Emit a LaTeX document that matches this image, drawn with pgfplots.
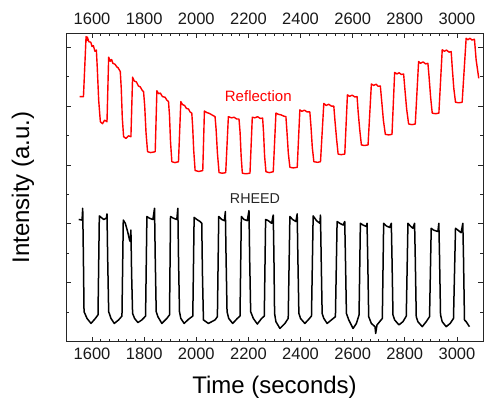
\documentclass[border=0pt]{standalone}
\usepackage{fontspec}
\setmainfont{Liberation Sans}
\usepackage{pgfplots}
\pgfplotsset{compat=1.18}
\begin{document}
\begin{tikzpicture}
\useasboundingbox (0,0) rectangle (484pt,401pt);
\pgfplotsset{
 base/.style={
  at={(66pt,59.3pt)}, anchor=south west,
  width=417pt, height=308.4pt, scale only axis,
  xmin=1500, xmax=3100, ymin=0, ymax=10.47,
  xtick={1600,1800,...,3000}, minor x tick num=5,
  ytick={0,2,...,10}, minor y tick num=1, yticklabels={},
  tick align=inside,
  major tick length=5pt, minor tick length=3pt,
  axis line style={line width=1pt, black!85},
  every tick/.style={black!85, line width=0.8pt},
  /pgf/number format/assume math mode=true,
  /pgf/number format/1000 sep={},
  scaled x ticks=false,
  tick label style={font=\fontsize{16.5}{16.5}\selectfont, black!90},
 }
}
\begin{axis}[base, xticklabel style={yshift=-2.3pt},
 xlabel={Time (seconds)}, ylabel={Intensity (a.u.)},
 label style={font=\fontsize{24}{24}\selectfont},
 xlabel style={at={(axis description cs:0.5,-0.1673)}, anchor=base},
 ylabel style={at={(axis description cs:-0.0887,0.5)}, anchor=base},
 clip=true]
% Reflection
\addplot[red, line width=1.4pt, line join=round] coordinates {
(1552.7,8.32)(1567.0,8.32)(1577.0,10.36)(1580,10.22)(1582,10.34)(1588,10.18)(1595,10.17)(1600,10.02)(1605,10.05)(1611,9.86)(1616.5,9.90)(1620,9.3)(1625.4,8.2)(1631.8,7.47)(1640,7.40)(1648,7.52)(1657.3,7.47)
(1663.7,9.66)(1670,9.52)(1675,9.58)(1680,9.45)(1688,9.42)(1695,9.33)(1700,9.30)(1708.3,9.17)(1712,8.6)(1716,7.6)(1721,6.96)(1730,6.90)(1740,6.99)(1749.1,6.96)
(1755.5,8.98)(1762,8.85)(1770,8.82)(1778,8.68)(1785,8.65)(1792,8.54)(1797.6,8.49)(1802,8.0)(1807,7.1)(1812.9,6.45)(1825,6.42)(1842.3,6.45)
(1848.7,8.52)(1855,8.42)(1862,8.44)(1870,8.32)(1880,8.30)(1887,8.20)(1893.3,8.15)(1897,7.7)(1901,6.8)(1906.1,6.11)(1918,6.08)(1931.6,6.11)
(1940.5,8.15)(1947,8.05)(1955,8.02)(1962,7.92)(1970,7.9)(1976,7.80)(1982.6,7.76)(1986,7.3)(1990,6.5)(1995.4,5.81)(2010,5.78)(2024.7,5.81)
(2031.1,7.83)(2040,7.78)(2050,7.75)(2060,7.70)(2071.9,7.64)(2076,7.2)(2081,6.4)(2087.3,5.74)(2100,5.72)(2112.8,5.74)
(2123,7.64)(2135,7.60)(2145,7.62)(2155,7.56)(2163.8,7.56)(2168,7.1)(2172,6.3)(2176.6,5.72)(2190,5.70)(2205.9,5.72)
(2214.8,7.62)(2225,7.60)(2235,7.64)(2245,7.58)(2254.4,7.59)(2258,7.1)(2262,6.3)(2267.2,5.77)(2280,5.74)(2295.2,5.77)
(2305.5,7.76)(2315,7.72)(2325,7.70)(2335,7.66)(2343.8,7.64)(2348,7.1)(2353,6.4)(2359.1,5.92)(2372,5.90)(2387.2,5.92)
(2397.3,7.87)(2405,7.82)(2415,7.86)(2425,7.80)(2435.6,7.8)(2440,7.3)(2445,6.6)(2451,6.11)(2465,6.09)(2476.5,6.11)
(2489.2,8.09)(2498,8.02)(2508,8.06)(2518,8.00)(2527.5,8.0)(2532,7.5)(2538,6.9)(2544.1,6.37)(2556,6.35)(2569.6,6.37)
(2579.8,8.38)(2588,8.33)(2598,8.37)(2608,8.31)(2616.8,8.32)(2621,7.8)(2627,7.2)(2633.4,6.68)(2645,6.66)(2658.9,6.68)
(2671.7,8.75)(2680,8.70)(2690,8.74)(2698,8.67)(2706.1,8.68)(2711,8.2)(2718,7.5)(2725.3,7.04)(2738,7.02)(2750.8,7.04)
(2761,9.14)(2770,9.09)(2778,9.13)(2787,9.07)(2795.4,9.09)(2800,8.6)(2807,7.9)(2814.6,7.39)(2828,7.37)(2840.1,7.39)
(2852.9,9.51)(2860,9.45)(2870,9.50)(2880,9.43)(2888.6,9.45)(2893,9.0)(2899,8.3)(2905.2,7.76)(2918,7.74)(2930.7,7.76)
(2943.5,9.91)(2952,9.86)(2960,9.90)(2970,9.83)(2977.9,9.85)(2982,9.3)(2988,8.6)(2994.5,8.13)(3007,8.11)(3020,8.13)
(3035.3,10.30)(3042,10.25)(3050,10.30)(3058,10.24)(3067.2,10.27)(3073.6,9.57)(3078,9.3)(3083.8,8.94)
};
% RHEED
\addplot[black, line width=1.5pt, line join=round] coordinates {
(1548.8,4.15)(1561.6,4.13)(1564.1,4.53)(1566.7,2.89)(1569.2,1.02)(1580.7,0.79)(1596.0,0.62)(1612.6,0.79)(1622.8,0.91)
(1627.9,4.27)(1644.5,4.15)(1654.7,4.19)(1657.3,4.34)(1659.8,2.89)(1663.7,1.02)(1672.6,0.79)(1685.3,0.62)(1701.9,0.74)(1714.7,0.87)
(1719.8,4.13)(1727.5,4.02)(1736.4,3.74)(1744.0,3.45)(1746.6,3.40)(1749.1,3.79)(1751.7,2.32)(1755.5,0.96)(1763.2,0.79)(1775.9,0.65)(1791.3,0.74)(1805.3,0.87)
(1810.4,4.25)(1820.6,4.19)(1833.4,4.15)(1839.7,4.53)(1842.3,2.89)(1846.1,1.02)(1852.5,0.85)(1867.8,0.62)(1886.9,0.79)(1897.2,0.91)
(1901.0,4.25)(1912.5,4.19)(1925.2,4.15)(1929.1,4.53)(1931.6,2.89)(1935.4,1.02)(1940.5,0.79)(1953.3,0.62)(1969.9,0.76)(1986.5,0.87)
(1991.6,4.22)(2001.8,4.15)(2014.5,4.08)(2020.9,4.02)(2023.5,2.32)(2027.3,0.74)(2046.4,0.62)(2059.2,0.68)(2071.9,0.74)(2080.9,0.85)
(2086.0,4.25)(2097.5,4.15)(2107.7,4.11)(2111.5,4.42)(2114.1,2.89)(2117.9,1.02)(2124.3,0.79)(2139.6,0.62)(2157.4,0.79)(2167.6,0.87)
(2172.7,4.25)(2182.9,4.15)(2195.7,4.11)(2202.1,4.45)(2204.6,2.89)(2208.5,1.02)(2218.7,0.79)(2234.0,0.60)(2250.6,0.79)(2260.8,0.87)
(2265.9,4.15)(2276.1,4.11)(2288.9,4.02)(2295.2,4.30)(2297.8,2.89)(2300.3,0.96)(2305.4,0.68)(2320.8,0.45)(2339.9,0.62)(2352.6,0.79)
(2359.0,4.25)(2369.2,4.15)(2382.0,4.08)(2387.1,4.34)(2389.6,2.89)(2393.5,0.96)(2399.8,0.79)(2416.4,0.62)(2429.2,0.74)(2441.9,0.87)
(2448.3,4.27)(2461.1,4.11)(2473.9,4.02)(2476.4,4.30)(2479.0,2.89)(2482.8,0.96)(2489.2,0.79)(2501.9,0.62)(2518.5,0.74)(2533.8,0.85)
(2540.2,4.08)(2550.4,4.02)(2563.2,3.96)(2569.5,4.08)(2572.1,2.89)(2575.9,0.96)(2584.9,0.74)(2601.4,0.45)(2614.2,0.62)(2624.4,0.91)
(2629.5,4.02)(2639.7,3.96)(2652.5,3.91)(2655.0,4.02)(2657.6,2.89)(2661.4,0.85)(2671.6,0.62)(2685.7,0.51)(2688.2,0.28)(2693.3,0.57)(2703.5,0.68)(2713.7,0.79)
(2718.8,4.02)(2729.0,3.93)(2741.8,3.88)(2748.2,4.02)(2750.7,2.89)(2754.6,0.91)(2760.9,0.74)(2777.5,0.57)(2792.8,0.68)(2805.6,0.87)
(2812.0,4.02)(2820.9,3.93)(2831.1,3.85)(2837.5,4.02)(2840.0,2.89)(2843.9,0.85)(2850.2,0.68)(2866.8,0.51)(2882.1,0.68)(2894.9,0.85)
(2901.3,3.85)(2910.2,3.79)(2926.8,3.74)(2930.6,4.02)(2933.2,2.89)(2937.0,0.91)(2943.4,0.68)(2958.7,0.51)(2974.0,0.62)(2986.8,0.79)
(2994.5,3.85)(3003.4,3.79)(3016.1,3.70)(3022.5,4.02)(3025.1,2.89)(3028.9,0.74)(3035.3,0.68)(3048.0,0.51)
};
\node[text=red, font=\fontsize{15}{15}\selectfont] at (axis cs:2237.7,8.34) {Reflection};
\node[text=black!85, font=\fontsize{14.3}{14.3}\selectfont] at (axis cs:2225.1,4.86) {RHEED};
\end{axis}
\begin{axis}[base, xticklabel pos=upper, xticklabel style={yshift=5.3pt}]
\end{axis}
\end{tikzpicture}
\end{document}
